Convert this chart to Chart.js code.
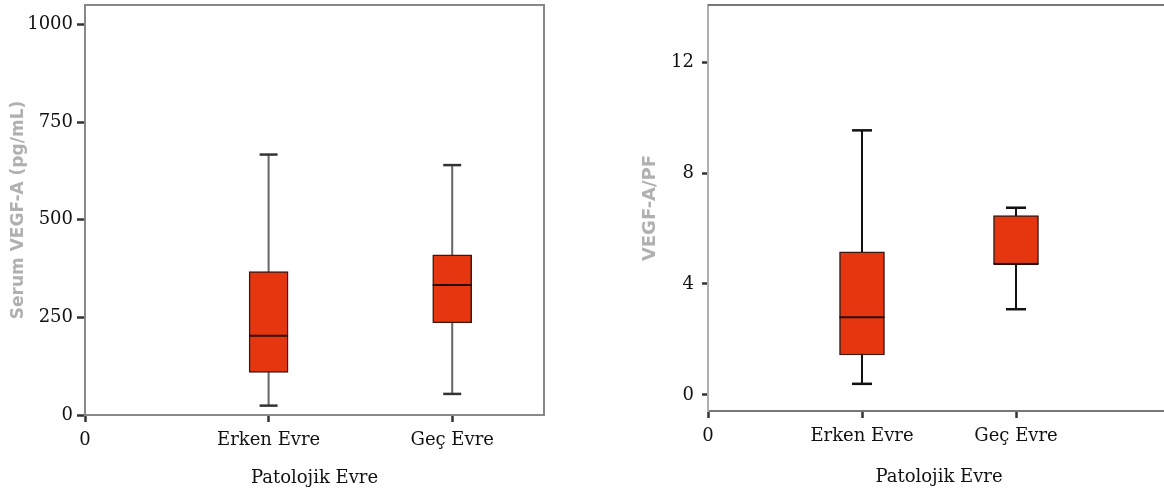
<!DOCTYPE html>
<html>
<head>
<meta charset="utf-8">
<script src="https://cdn.jsdelivr.net/npm/chart.js@4.4.1/dist/chart.umd.min.js"></script>
<style>
  html, body { margin: 0; padding: 0; background: #fff; overflow: hidden; }
  body { width: 1164px; height: 493px; position: relative; }
  .panel { position: absolute; top: 0; }
  #serumChart { left: 0; }
  #ratioChart { left: 600px; }
</style>
</head>
<body>
<canvas id="serumChart" class="panel" width="580" height="493"></canvas>
<canvas id="ratioChart" class="panel" width="600" height="493"></canvas>
<script>
// categories sit at x = 1 and 2 on a linear axis that starts at 0
const stageX = [1, 2];
const xTickValues = [0, 1, 2];
const xTickLabels = ['0', 'Erken Evre', 'Geç Evre'];

// left panel: Serum VEGF-A (pg/mL)
const serumMin = [24, 54];
const serumQ1 = [109, 236];
const serumMedian = [203, 333];
const serumQ3 = [367, 410];
const serumMax = [667, 640];
const serumTicks = [0, 250, 500, 750, 1000];

// right panel: VEGF-A / PF
const ratioMin = [0.4, 3.09];
const ratioQ1 = [1.44, 4.72];
const ratioMedian = [2.8, 4.72];
const ratioQ3 = [5.16, 6.47];
const ratioMax = [9.54, 6.75];
const ratioTicks = [0, 4, 8, 12];

const serif = 'DejaVu Serif';
const boxRed = '#e5360f';

// top (and optionally right) edge of the plot frame
const frameLines = {
  id: 'frameLines',
  beforeDatasetsDraw(chart, args, opts) {
    const { ctx, chartArea: a } = chart;
    ctx.save();
    ctx.strokeStyle = opts.color;
    ctx.lineWidth = 2;
    ctx.beginPath();
    ctx.moveTo(a.left, a.top);
    ctx.lineTo(a.right, a.top);
    if (opts.right) ctx.lineTo(a.right, a.bottom);
    ctx.stroke();
    ctx.restore();
  }
};

function boxDatasets(min, q1, med, q3, max, look) {
  const whiskers = stageX.map((x, i) => ({
    type: 'line',
    data: [{ x, y: min[i] }, { x, y: max[i] }],
    borderColor: look.whiskerColor,
    borderWidth: 2,
    pointRadius: 0,
    order: 4,
  }));
  return [
    ...whiskers,
    {
      type: 'scatter',
      data: stageX.flatMap((x, i) => [{ x, y: max[i] }, { x, y: min[i] }]),
      pointStyle: 'line',
      pointRadius: look.capRadius,
      borderColor: look.capColor,
      borderWidth: 2.5,
      order: 3,
    },
    {
      type: 'bar',
      data: stageX.map((x, i) => ({ x, y: [q1[i], q3[i]] })),
      backgroundColor: boxRed,
      borderColor: '#3b1a12',
      borderWidth: 1.5,
      borderSkipped: false,
      barThickness: look.boxWidth,
      order: 2,
    },
    {
      type: 'scatter',
      data: stageX.map((x, i) => ({ x, y: med[i] })),
      pointStyle: 'line',
      pointRadius: look.boxWidth / 2,
      borderColor: '#2a0c06',
      borderWidth: 2,
      order: 1,
    },
  ];
}

function makeChart(canvas, datasets, look) {
  return new Chart(canvas, {
    type: 'bar',
    data: { datasets },
    plugins: [frameLines],
    options: {
      responsive: false,
      animation: false,
      events: [],
      layout: { autoPadding: false, padding: { top: 5, right: look.padRight, left: 0, bottom: 0 } },
      plugins: {
        legend: { display: false },
        tooltip: { enabled: false },
        frameLines: { color: look.frameColor, right: look.frameRight },
      },
      scales: {
        x: {
          type: 'linear',
          min: 0,
          max: look.xMax,
          offset: false,
          afterFit: (s) => { s.height = look.xAxisHeight; s.paddingLeft = 0; s.paddingRight = 0; },
          afterBuildTicks: (s) => { s.ticks = xTickValues.map((v) => ({ value: v })); },
          ticks: {
            autoSkip: false,
            maxRotation: 0,
            padding: 8,
            color: '#111',
            font: { family: serif, size: 18 },
            callback: (v) => xTickLabels[xTickValues.indexOf(v)],
          },
          grid: { offset: false, drawOnChartArea: false, tickLength: 7, tickWidth: 2.5, tickColor: '#333' },
          border: { color: look.frameColor, width: 2 },
          title: {
            display: true,
            text: 'Patolojik Evre',
            color: '#111',
            font: { family: serif, size: 18 },
            padding: { top: 0, bottom: look.xTitlePad },
          },
        },
        y: {
          min: look.yMin,
          max: look.yMax,
          afterFit: (s) => { s.width = look.yAxisWidth; s.paddingTop = 0; s.paddingBottom = 0; },
          afterBuildTicks: (s) => { s.ticks = look.yTicks.map((v) => ({ value: v })); },
          ticks: {
            padding: look.yTickPad,
            color: '#111',
            font: { family: serif, size: 18 },
            callback: (v) => String(v),
          },
          grid: { drawOnChartArea: false, tickLength: look.yTickLength, tickWidth: 2.5, tickColor: '#333' },
          border: { color: look.yBorderColor, width: 2, dash: look.yBorderDash },
          title: {
            display: true,
            text: look.yTitle,
            color: '#b0b0b0',
            font: { family: 'DejaVu Sans', size: look.yTitleSize, weight: 'bold' },
            padding: { top: look.yTitlePad, bottom: 0 },
          },
        },
      },
    },
  });
}

makeChart(
  document.getElementById('serumChart'),
  boxDatasets(serumMin, serumQ1, serumMedian, serumQ3, serumMax,
    { whiskerColor: '#666', capColor: '#333', capRadius: 9, boxWidth: 39 }),
  {
    padRight: 36, xMax: 2.5, xAxisHeight: 78, xTitlePad: 4,
    yMin: 0, yMax: 1050, yTicks: serumTicks, yAxisWidth: 85, yTickPad: 4, yTickLength: 8,
    yBorderColor: '#888', yBorderDash: [], yTitle: 'Serum VEGF-A (pg/mL)', yTitlePad: 8, yTitleSize: 17,
    frameColor: '#888', frameRight: true,
  }
);

makeChart(
  document.getElementById('ratioChart'),
  boxDatasets(ratioMin, ratioQ1, ratioMedian, ratioQ3, ratioMax,
    { whiskerColor: '#111', capColor: '#111', capRadius: 10, boxWidth: 45 }),
  {
    padRight: 30, xMax: 3, xAxisHeight: 82, xTitlePad: 5,
    yMin: -0.58, yMax: 14.06, yTicks: ratioTicks, yAxisWidth: 108, yTickPad: 8, yTickLength: 6,
    yBorderColor: '#b0b0b0', yBorderDash: [2, 2], yTitle: 'VEGF-A/PF', yTitlePad: 40, yTitleSize: 18,
    frameColor: '#777', frameRight: false,
  }
);
</script>
</body>
</html>
